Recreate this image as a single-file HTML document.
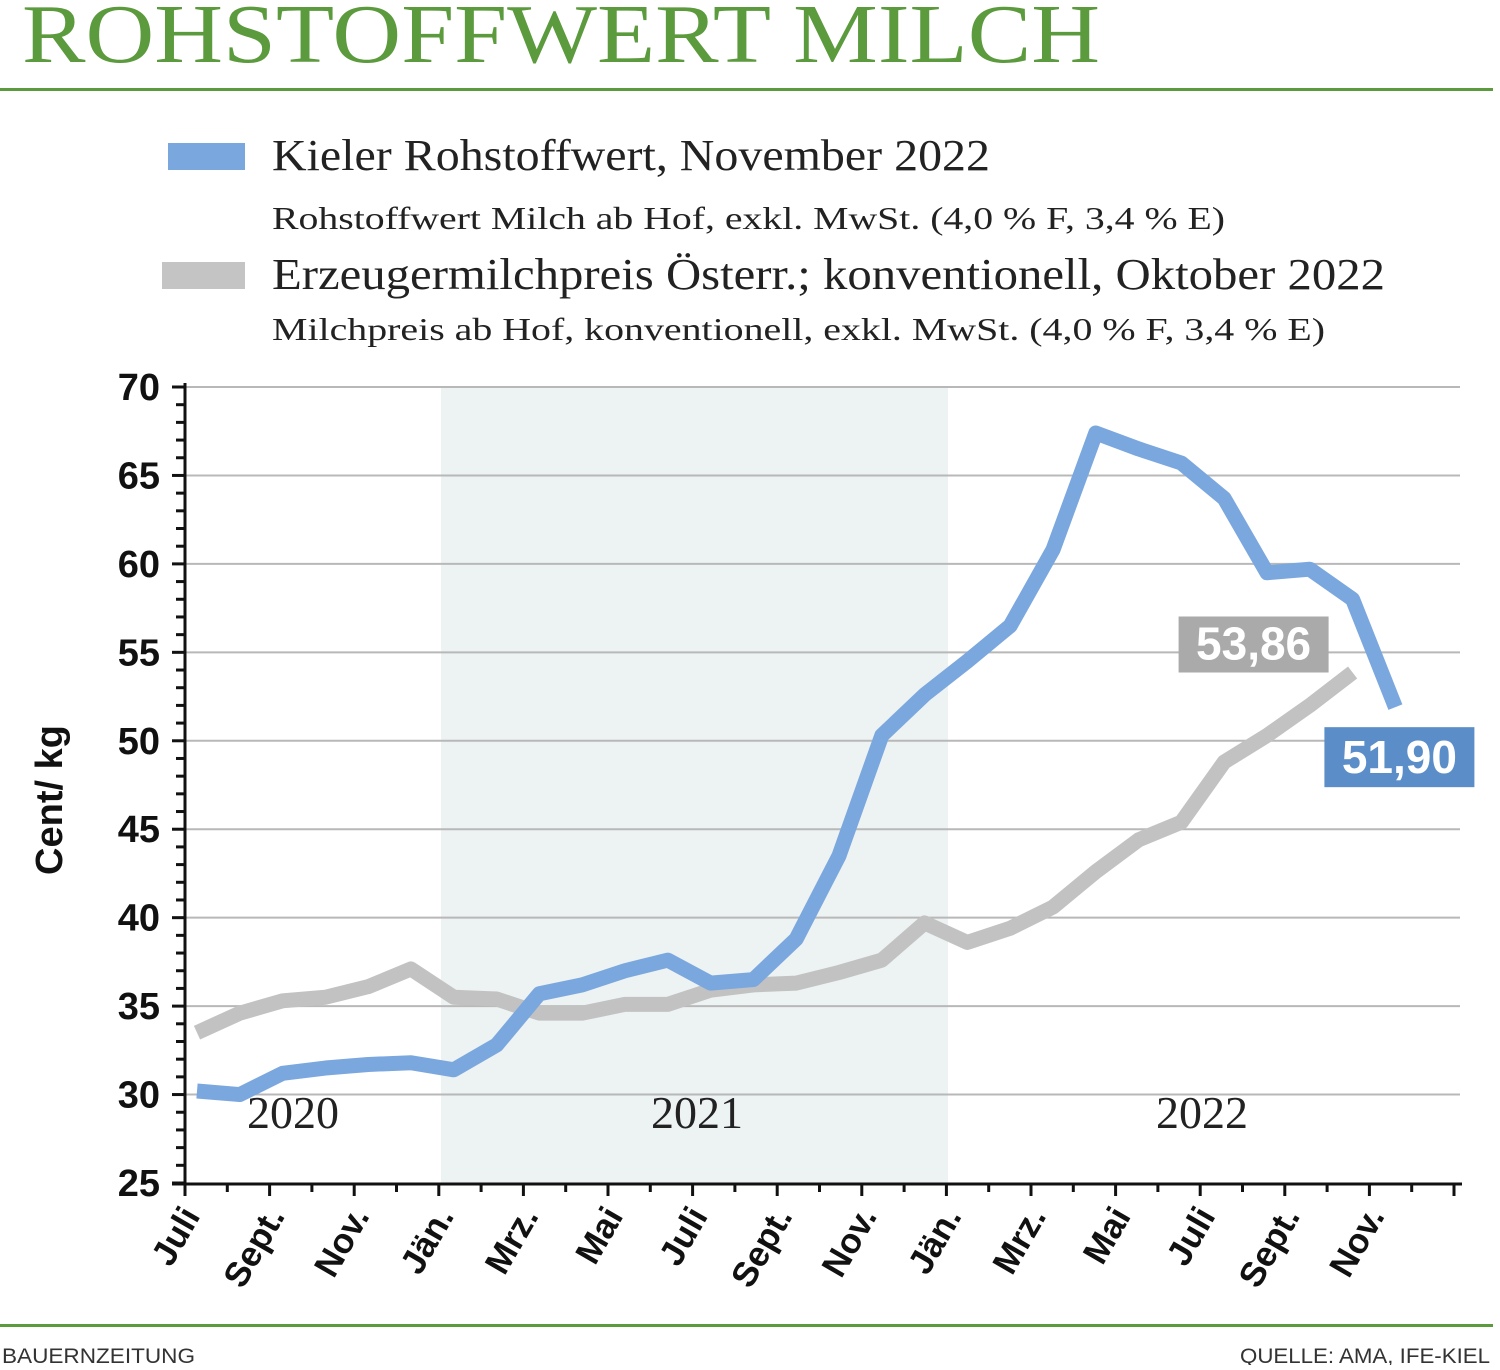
<!DOCTYPE html>
<html><head><meta charset="utf-8"><style>
body{margin:0;background:#fff;width:1500px;height:1365px;overflow:hidden;font-family:"Liberation Sans",sans-serif}
</style></head><body>
<svg width="1500" height="1365" viewBox="0 0 1500 1365" xmlns="http://www.w3.org/2000/svg">
<text x="22" y="62" font-family="Liberation Serif,serif" font-size="84" fill="#5b9a3d" textLength="1078" lengthAdjust="spacingAndGlyphs">ROHSTOFFWERT MILCH</text>
<rect x="0" y="88" width="1493" height="3" fill="#5b9a3d"/>
<g font-family="Liberation Serif,serif" fill="#222">
<rect x="168" y="143" width="77" height="27" fill="#7ba7df"/>
<text x="272" y="170" font-size="44" textLength="718" lengthAdjust="spacingAndGlyphs">Kieler Rohstoffwert, November 2022</text>
<text x="272" y="229" font-size="32" textLength="953" lengthAdjust="spacingAndGlyphs">Rohstoffwert Milch ab Hof, exkl. MwSt. (4,0 % F, 3,4 % E)</text>
<rect x="162" y="262" width="83" height="27" fill="#c4c4c4"/>
<text x="272" y="289" font-size="44" textLength="1113" lengthAdjust="spacingAndGlyphs">Erzeugermilchpreis Österr.; konventionell, Oktober 2022</text>
<text x="272" y="340" font-size="32" textLength="1053" lengthAdjust="spacingAndGlyphs">Milchpreis ab Hof, konventionell, exkl. MwSt. (4,0 % F, 3,4 % E)</text>
</g>
<g id="plot"></g>
<rect x="0" y="1324" width="1493" height="3" fill="#5b9a3d"/>
<text x="2" y="1363" font-size="21" fill="#333" textLength="193" lengthAdjust="spacingAndGlyphs">BAUERNZEITUNG</text>
<text x="1240" y="1363" font-size="21" fill="#333" textLength="250" lengthAdjust="spacingAndGlyphs">QUELLE: AMA, IFE-KIEL</text>
</svg>
<script>
const kielValues=[30.2,30.0,31.2,31.5,31.7,31.8,31.4,32.8,35.7,36.2,37.0,37.6,36.3,36.5,38.8,43.5,50.3,52.6,54.5,56.5,60.8,67.4,66.5,65.7,63.7,59.5,59.7,58.0,51.9];
const austriaValues=[33.5,34.6,35.3,35.5,36.1,37.1,35.5,35.4,34.6,34.6,35.1,35.1,35.9,36.2,36.3,36.9,37.6,39.7,38.6,39.4,40.6,42.6,44.4,45.4,48.8,50.3,52.0,53.86];
const yTicks=[25,30,35,40,45,50,55,60,65,70];
const monthLabels=["Juli","Sept.","Nov.","Jän.","Mrz.","Mai","Juli","Sept.","Nov.","Jän.","Mrz.","Mai","Juli","Sept.","Nov."];
const yearLabels=["2020","2021","2022"];
const kielLabel="51,90", austriaLabel="53,86";
const NS="http://www.w3.org/2000/svg";
const g=document.getElementById('plot');
const yS=v=>1183-(v-25)*(796/45);
const xS=i=>197+i*42.8;
const tickX=i=>185+i*42.3;
function mk(t,a){const e=document.createElementNS(NS,t);for(const k in a)e.setAttribute(k,a[k]);g.appendChild(e);return e;}
let e=mk('rect',{x:441,y:387,width:507,height:796,fill:'#edf2f2'});


yTicks.forEach(v=>{
 if(v>25){const l=mk('line',{x1:185,x2:1460,y1:yS(v),y2:yS(v),stroke:'#b8b8b8','stroke-width':2});
 
 }
 const t=mk('text',{x:160,y:yS(v)+13,'text-anchor':'end','font-size':38,'font-weight':'bold',fill:'#111'});t.textContent=v;
 
 
});
for(let v=25;v<=70;v++){const m=mk('line',{x1:185,x2:v%5?176:172,y1:yS(v),y2:yS(v),stroke:'#111','stroke-width':3});
 
 }
e=mk('line',{x1:185,x2:185,y1:383,y2:1185,stroke:'#111','stroke-width':3});


e=mk('line',{x1:172,x2:1462,y1:1184,y2:1184,stroke:'#111','stroke-width':3});


for(let i=0;i<=30;i++){const m=mk('line',{x1:tickX(i),x2:tickX(i),y1:1184,y2:i%2?1192:1196,stroke:'#111','stroke-width':3});
 
 }
monthLabels.forEach((s,k)=>{const x=tickX(2*k)+16,y=1216;
 const t=mk('text',{x:x,y:y,'text-anchor':'end','font-size':35,'font-weight':'bold',fill:'#111',transform:`rotate(-60 ${x} ${y})`});t.textContent=s;
 
 });
[293,697,1202].forEach((x,k)=>{const t=mk('text',{x:x,y:1128,'text-anchor':'middle','font-size':46,'font-family':'Liberation Serif,serif',fill:'#222'});t.textContent=yearLabels[k];
 
 });
e=mk('text',{x:62,y:800,'text-anchor':'middle','font-size':38,'font-weight':'bold',fill:'#111',transform:'rotate(-90 62 800)'});e.textContent='Cent/ kg';


function line(vals,col,name){const p=mk('polyline',{points:vals.map((v,i)=>xS(i)+','+yS(v)).join(' '),fill:'none',stroke:col,'stroke-width':15,'stroke-linejoin':'round'});
 
 }
line(austriaValues,'#c2c2c2','series-austria');
line(kielValues,'#7ba7df','series-kiel');
const ax=xS(austriaValues.length-1),ay=yS(austriaValues[austriaValues.length-1]);
e=mk('rect',{x:ax-174,y:ay-56,width:150,height:56,fill:'#aaaaaa'});


e=mk('text',{x:ax-99,y:ay-13,'text-anchor':'middle','font-size':46,'font-weight':'bold',fill:'#fff'});e.textContent=austriaLabel;


const bx=xS(kielValues.length-1),by=yS(kielValues[kielValues.length-1]);
e=mk('rect',{x:bx-71,y:by+20,width:150,height:60,fill:'#5b8ec9'});


e=mk('text',{x:bx+4,y:by+66,'text-anchor':'middle','font-size':46,'font-weight':'bold',fill:'#fff'});e.textContent=kielLabel;


</script>
</body></html>
